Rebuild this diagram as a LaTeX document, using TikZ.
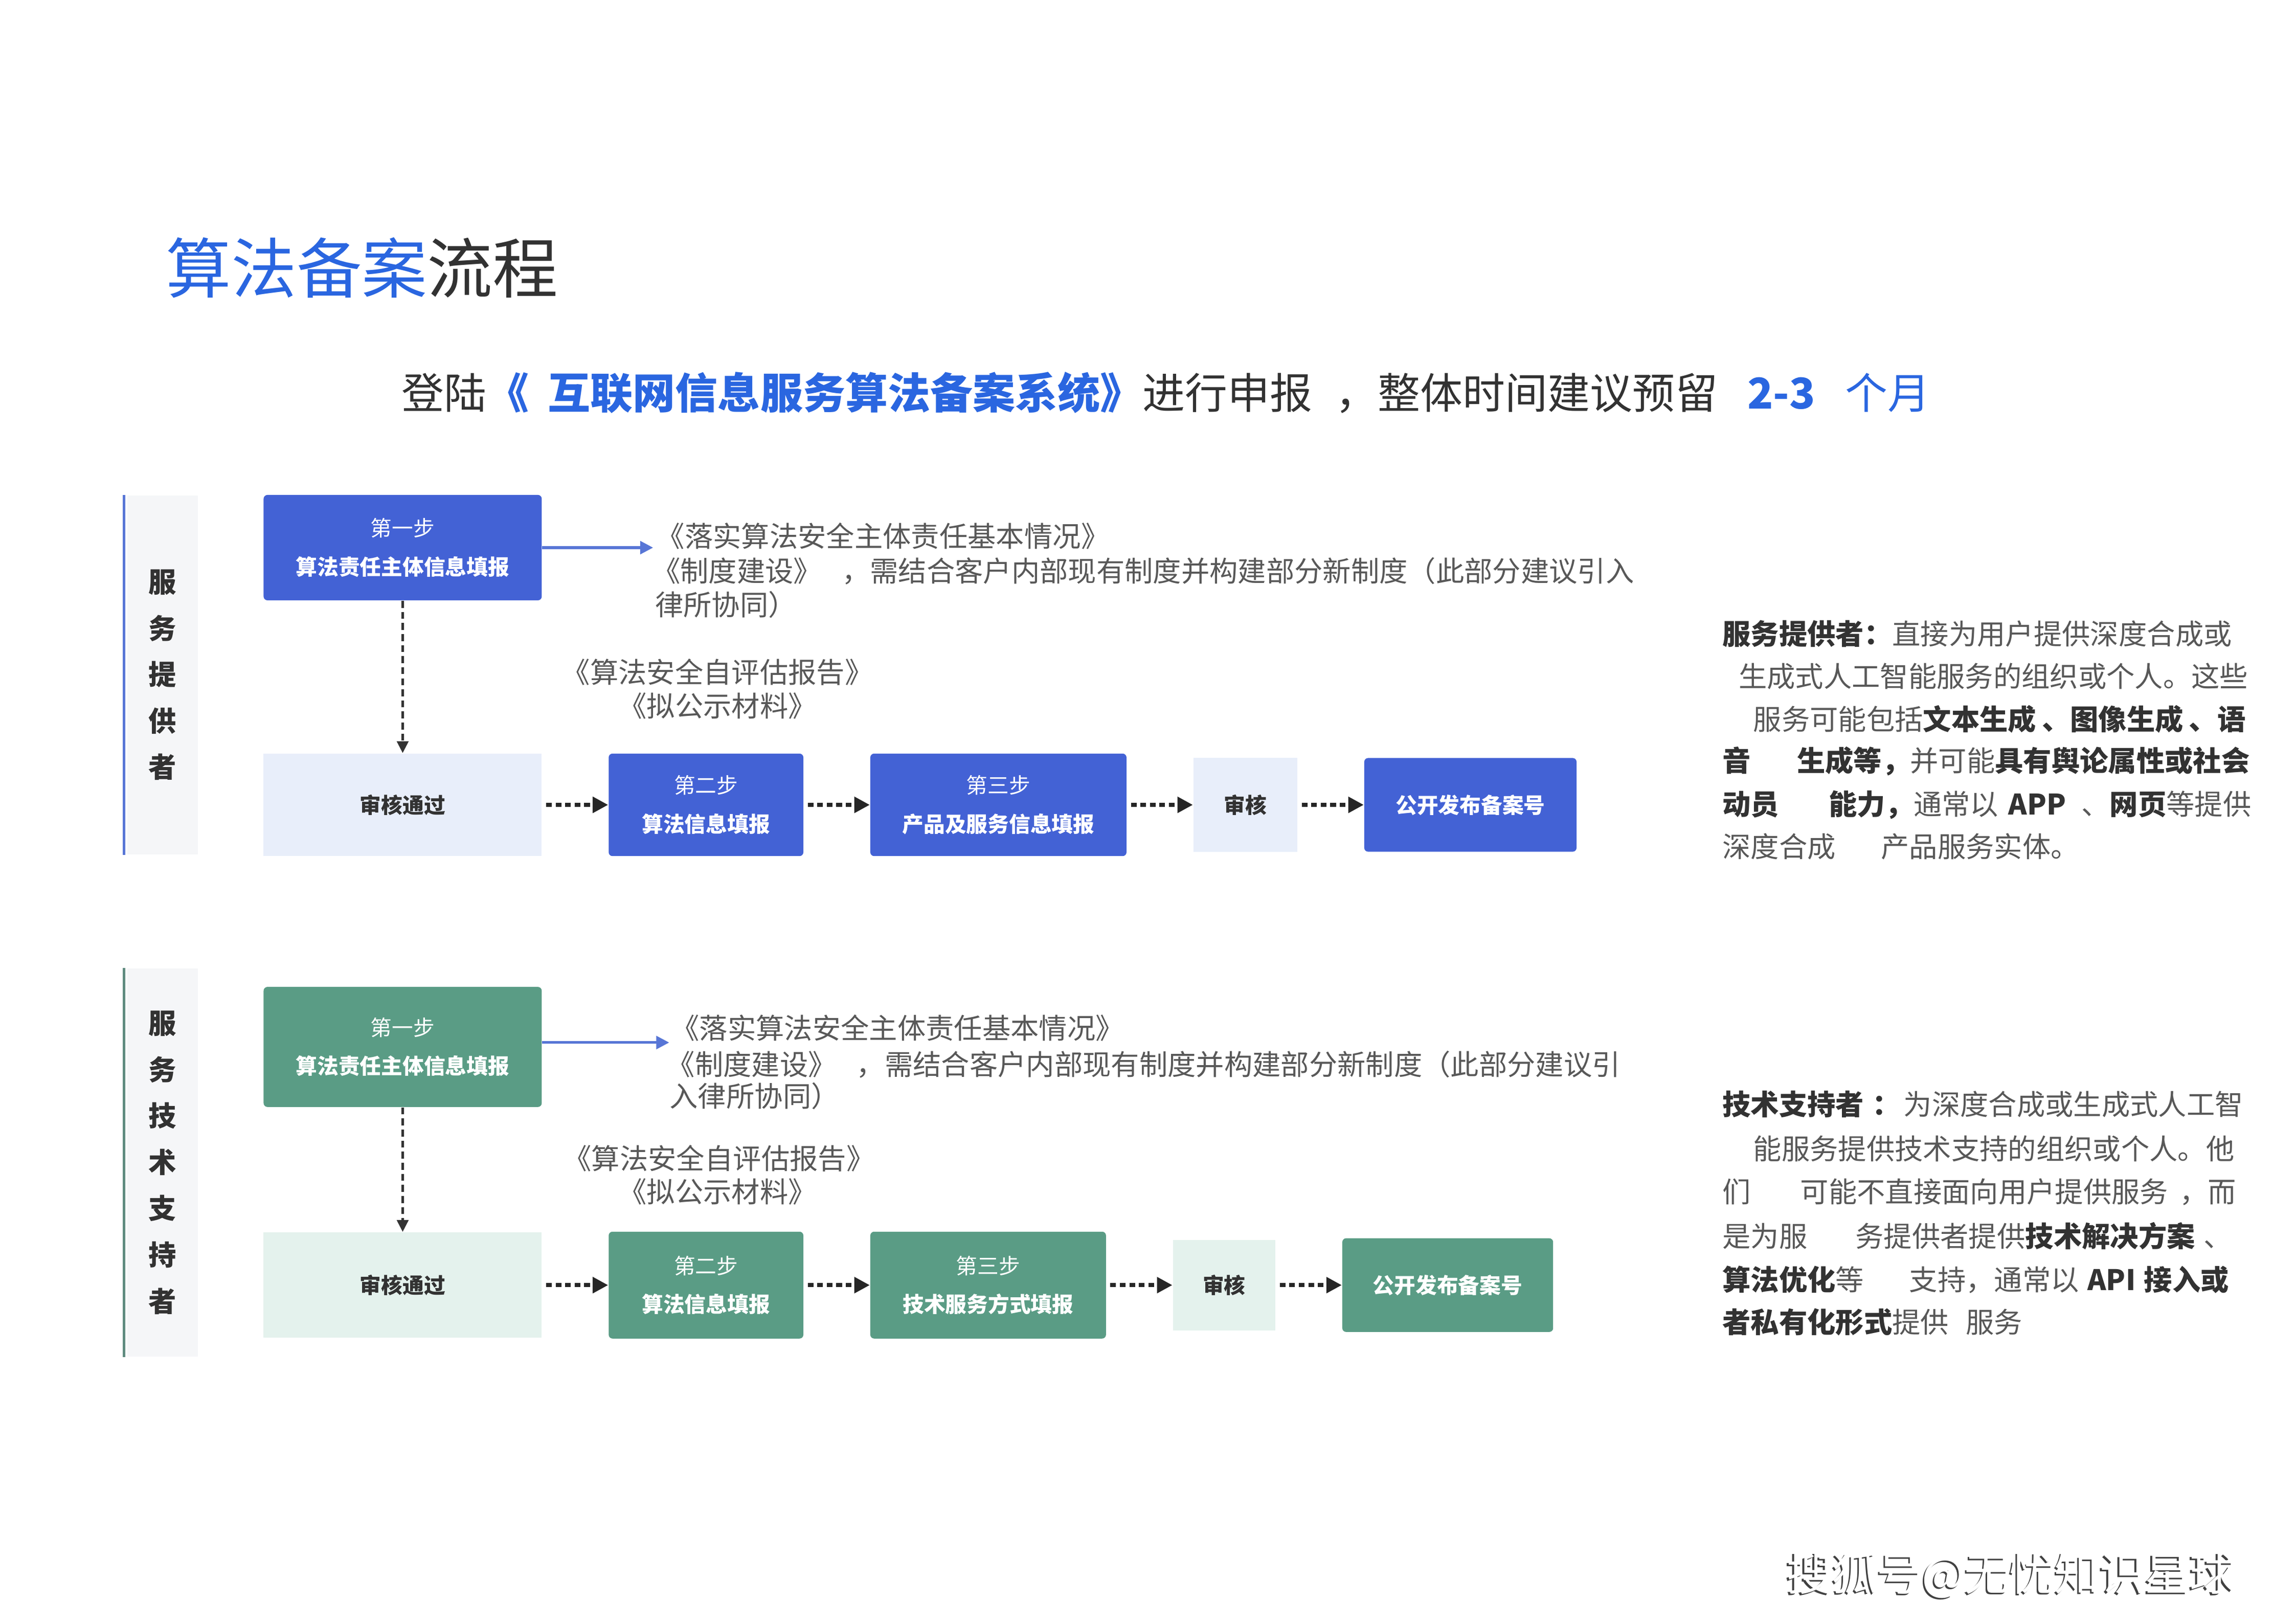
\documentclass[tikz,border=0pt]{standalone}
\usepackage{fontspec}
\setmainfont{Noto Sans CJK SC}
\usetikzlibrary{positioning,arrows.meta}

\definecolor{stepblue}{RGB}{67,98,213}
\definecolor{stepgreen}{RGB}{90,156,133}
\definecolor{passblue}{RGB}{232,238,250}
\definecolor{passgreen}{RGB}{228,242,237}
\definecolor{headblue}{RGB}{42,102,224}
\definecolor{notegray}{RGB}{88,88,88}
\definecolor{darkgray}{RGB}{50,50,50}
\definecolor{barblue}{RGB}{88,118,214}
\definecolor{bargreen}{RGB}{96,140,128}
\definecolor{rolebg}{RGB}{245,246,248}

\newcommand{\kw}[1]{{\bfseries\color{darkgray}#1}}

\begin{document}
\begin{tikzpicture}[x=0.02cm,y=-0.02cm,node distance=0.9cm,
  stepbox/.style={rounded corners=1.5pt,inner sep=0pt,align=center,text=white,
    font=\fontsize{8.3}{10}\selectfont},
  bluestep/.style={stepbox,fill=stepblue},
  greenstep/.style={stepbox,fill=stepgreen},
  passbox/.style={inner sep=0pt,text=darkgray,font=\fontsize{8.3}{10}\selectfont\bfseries},
  bluepass/.style={passbox,fill=passblue},
  greenpass/.style={passbox,fill=passgreen},
  role/.style={fill=rolebg,inner sep=0pt,minimum width=0.96cm,align=center,
    text=darkgray,font=\fontsize{10.8}{18}\selectfont\bfseries},
  note/.style={inner sep=0pt,text=notegray,font=\fontsize{11}{12}\selectfont},
  desc/.style={inner sep=0pt,anchor=west,text=notegray,font=\fontsize{11}{12}\selectfont},
  flow/.style={-{Triangle[length=6pt,width=6pt]},shorten <=1.5pt,line width=1.6pt,
    dash pattern=on 2.2pt off 1.5pt,black!85},
  down/.style={-{Triangle[length=4.6pt,width=4.4pt]},line width=1pt,
    dash pattern=on 2.7pt off 1.6pt,black!80},
  feed/.style={-{Triangle[length=5pt,width=5pt]},line width=1pt,barblue}]

\useasboundingbox (0,0) rectangle (1568,1108.8);

% heading
\node[inner sep=0pt,anchor=west,text=darkgray,font=\fontsize{25.4}{30}\selectfont] (title) at (113,183)
  {\textcolor{headblue}{算法备案}流程};
\node[inner sep=0pt,anchor=west,text=darkgray,font=\fontsize{16.5}{20}\selectfont] (intro) at (274,268)
  {登陆\textcolor{headblue}{\bfseries 《\hspace{0.45em}互联网信息服务算法备案系统》}进行申报\hspace{0.55em}，整体时间建议预留\hspace{0.7em}\textcolor{headblue}{\bfseries 2-3}\hspace{0.7em}\textcolor{headblue}{个月}};

% service provider
\node[role,minimum height=4.9cm] (role1) at (111,461) {服\\务\\提\\供\\者};
\draw[barblue,line width=1.1pt] ([xshift=-0.04cm]role1.north west) -- ([xshift=-0.04cm]role1.south west);

\node[bluestep,minimum width=3.8cm,minimum height=1.44cm] (p1) at (275,374) {第一步\\[5pt]\textbf{算法责任主体信息填报}};
\node[bluepass,minimum width=3.8cm,minimum height=1.4cm,below=2.08cm of p1] (p0) {审核通过};
\node[bluestep,minimum width=2.66cm,minimum height=1.4cm,right=of p0] (p2) {第二步\\[5pt]\textbf{算法信息填报}};
\node[bluestep,minimum width=3.5cm,minimum height=1.4cm,right=of p2] (p3) {第三步\\[5pt]\textbf{产品及服务信息填报}};
\node[bluepass,minimum width=1.42cm,minimum height=1.28cm,right=of p3] (p4) {审核};
\node[bluestep,minimum width=2.9cm,minimum height=1.28cm,right=of p4] (p5) {\textbf{公开发布备案号}};

\coordinate (p1end) at (446,374);
\draw[feed] (p1) -- (p1end);
\path[down] (p1) edge (p0);
\path[flow] (p0) edge (p2) (p2) edge (p3) (p3) edge (p4) (p4) edge (p5);

\node[note,anchor=west] (p1a) at (448,366) {《落实算法安全主体责任基本情况》};
\node[note,anchor=west] (p1b) at (445,390) {《制度建设》\hspace{0.7em}，需结合客户内部现有制度并构建部分新制度（此部分建议引入};
\node[note,anchor=west] (p1c) at (447,413) {律所协同）};
\node[note] (p1d) at (490,459) {《算法安全自评估报告》};
\node[note] (p1e) at (490,482) {《拟公示材料》};

% technical supporter
\node[role,minimum height=5.3cm] (role2) at (111,794) {服\\务\\技\\术\\支\\持\\者};
\draw[bargreen,line width=1.1pt] ([xshift=-0.04cm]role2.north west) -- ([xshift=-0.04cm]role2.south west);

\node[greenstep,minimum width=3.8cm,minimum height=1.64cm] (q1) at (275,715) {第一步\\[5pt]\textbf{算法责任主体信息填报}};
\node[greenpass,minimum width=3.8cm,minimum height=1.44cm,below=1.7cm of q1] (q0) {审核通过};
\node[greenstep,minimum width=2.66cm,minimum height=1.46cm,right=of q0] (q2) {第二步\\[5pt]\textbf{算法信息填报}};
\node[greenstep,minimum width=3.22cm,minimum height=1.46cm,right=of q2] (q3) {第三步\\[5pt]\textbf{技术服务方式填报}};
\node[greenpass,minimum width=1.4cm,minimum height=1.24cm,right=of q3] (q4) {审核};
\node[greenstep,minimum width=2.88cm,minimum height=1.28cm,right=of q4] (q5) {\textbf{公开发布备案号}};

\coordinate (q1end) at (457,712);
\draw[feed] (q1.east |- q1end) -- (q1end);
\path[down] (q1) edge (q0);
\path[flow] (q0) edge (q2) (q2) edge (q3) (q3) edge (q4) (q4) edge (q5);

\node[note,anchor=west] (q1a) at (458,702) {《落实算法安全主体责任基本情况》};
\node[note,anchor=west] (q1b) at (455,727) {《制度建设》\hspace{0.7em}，需结合客户内部现有制度并构建部分新制度（此部分建议引};
\node[note,anchor=west] (q1c) at (457,748.5) {入律所协同）};
\node[note] (q1d) at (491,791) {《算法安全自评估报告》};
\node[note] (q1e) at (490,814) {《拟公示材料》};

% right column
\node[desc] (r1) at (1176,433) {\kw{服务提供者：}直接为用户提供深度合成或};
\node[desc] (r2) at (1187,462) {生成式人工智能服务的组织或个人。这些};
\node[desc] (r3) at (1197,491) {服务可能包括\kw{文本生成\hspace{0.2em}、图像生成\hspace{0.2em}、语}};
\node[desc] (r4) at (1176,520) {\kw{音}\hspace{1.63em}\kw{生成等，}并可能\kw{具有舆论属性或社会}};
\node[desc] (r5) at (1176,549.5) {\kw{动员}\hspace{1.75em}\kw{能力，}通常以\hspace{0.35em}\kw{APP}\hspace{0.55em}、\kw{网页}等提供};
\node[desc] (r6) at (1176,578) {深度合成\hspace{1.6em}产品服务实体。};

\node[desc] (s1) at (1176,754) {\kw{技术支持者\hspace{0.3em}：}\hspace{0.1em}为深度合成或生成式人工智};
\node[desc] (s2) at (1197,784.5) {能服务提供技术支持的组织或个人。他};
\node[desc] (s3) at (1176,814) {们\hspace{1.75em}可能不直接面向用户提供服务\hspace{0.4em}，而};
\node[desc] (s4) at (1176,844) {是为服\hspace{1.7em}务提供者提供\kw{技术解决方案}\hspace{0.3em}、};
\node[desc] (s5) at (1176,874) {\kw{算法优化}等\hspace{1.6em}支持，通常以\hspace{0.3em}\kw{API\hspace{0.3em}接入或}};
\node[desc] (s6) at (1176,903) {\kw{者私有化形式}提供\hspace{0.6em}服务};

% watermark
\node[inner sep=0pt,text=black!75,font=\fontsize{17.5}{20}\selectfont] (markshade) at (1372,1077) {搜狐号@无忧知识星球};
\node[inner sep=0pt,text=white,font=\fontsize{17.5}{20}\selectfont] (mark) at ([xshift=0.7pt,yshift=0.7pt]markshade.center) {搜狐号@无忧知识星球};
\end{tikzpicture}
\end{document}
